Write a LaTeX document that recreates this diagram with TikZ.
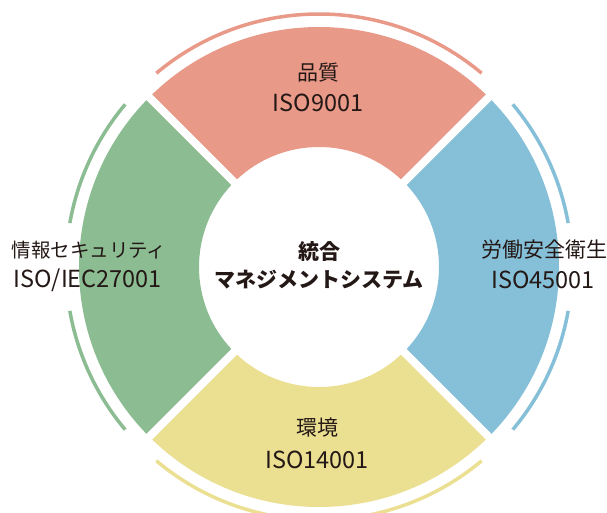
\documentclass[tikz,border=0pt]{standalone}
\usepackage{fontspec}
\setmainfont{Noto Sans CJK JP}
\definecolor{segred}{RGB}{233,153,136}
\definecolor{segblue}{RGB}{134,191,216}
\definecolor{segyellow}{RGB}{235,223,146}
\definecolor{seggreen}{RGB}{139,188,146}
\definecolor{txt}{RGB}{35,24,21}
\tikzset{
  jp/.style={inner sep=0pt, text=txt, font=\fontsize{21pt}{21pt}\selectfont},
  jpnarrow/.style={inner sep=0pt, text=txt, font=\fontsize{19.5pt}{19.5pt}\selectfont},
  iso/.style={inner sep=0pt, text=txt, font=\fontsize{23.5pt}{23.5pt}\selectfont},
  ctr/.style={inner sep=0pt, text=txt, font=\fontsize{21pt}{21pt}\selectfont\bfseries},
  ring/.style={line width=3.5pt},
  gapline/.style={white, line width=8pt}
}
\newcommand{\sector}[3]{%
  \fill[#3] (#1:120pt) arc[start angle=#1, end angle=#2, radius=120pt]
    -- (#2:240pt) arc[start angle=#2, end angle=#1, radius=240pt] -- cycle;}
\begin{document}
\begin{tikzpicture}
\useasboundingbox (-319pt,267pt) rectangle (288pt,-246pt);
\coordinate (c) at (0,0);
\sector{45}{135}{segred}
\sector{-45}{45}{segblue}
\sector{225}{315}{segyellow}
\sector{135}{225}{seggreen}
\foreach \a in {45,135,225,315}
  \draw[gapline] (\a:100pt) -- (\a:262pt);
% outer arcs
\draw[ring, segred] (50:253pt) arc[start angle=50, end angle=130, radius=253pt];
\draw[ring, segyellow] (230:253pt) arc[start angle=230, end angle=310, radius=253pt];
\draw[ring, seggreen] (140:253pt) arc[start angle=140, end angle=170, radius=253pt];
\draw[ring, seggreen] (190:253pt) arc[start angle=190, end angle=220, radius=253pt];
\draw[ring, segblue] (10:253pt) arc[start angle=10, end angle=40, radius=253pt];
\draw[ring, segblue] (-10:253pt) arc[start angle=-10, end angle=-40, radius=253pt];
% texts
\node[jp] (q) at (-1pt,194pt) {品質};
\node[iso] (qi) at (-1pt,164pt) {ISO9001};
\node[jp] (e) at (-2pt,-161pt) {環境};
\node[iso] (ei) at (-2pt,-193pt) {ISO14001};
\node[jpnarrow] (s) at (-230pt,17pt) {情報セキュリティ};
\node[iso] (si) at (-231pt,-13pt) {ISO/IEC27001};
\node[jp] (h) at (225pt,17pt) {労働安全衛生};
\node[iso] (hi) at (224pt,-13pt) {ISO45001};
\node[ctr] (m1) at (0pt,15pt) {統合};
\node[ctr] (m2) at (0pt,-13pt) {マネジメントシステム};
\end{tikzpicture}
\end{document}
